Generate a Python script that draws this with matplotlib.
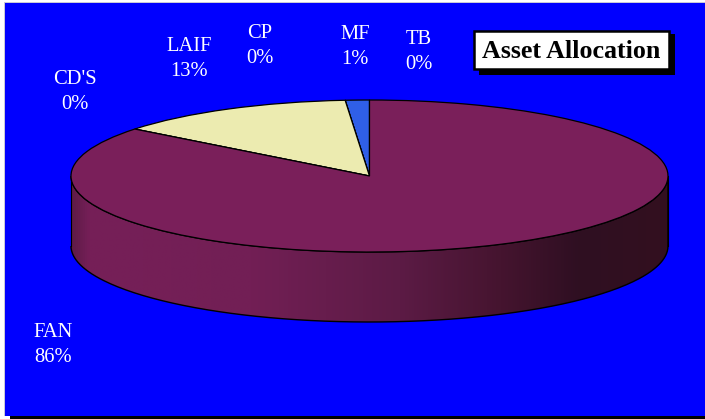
import numpy as np
import matplotlib
matplotlib.use("Agg")
import matplotlib.pyplot as plt
from matplotlib.colors import LinearSegmentedColormap
from matplotlib.patches import PathPatch, Rectangle
from matplotlib.path import Path

# Data (counter-clockwise from 12 o'clock)
categories = ["TB", "MF", "CP", "LAIF", "CD'S", "FAN"]
values = [0.0, 1.3, 0.0, 13.1, 0.0, 85.6]
percent_labels = ["0%", "1%", "0%", "13%", "0%", "86%"]
title_text = "Asset Allocation"

W, H = 705, 419
CX, CY, RX, RY, DEPTH = 369.5, 176, 298.5, 76, 70
label_px = {"TB": (419, 52), "MF": (355, 47), "CP": (260, 46),
            "LAIF": (189, 59), "CD'S": (75, 92), "FAN": (53, 345)}
colors = {"TB": "#ffffff", "MF": "#2f5fe8", "CP": "#aaaaaa",
          "LAIF": "#ecebb0", "CD'S": "#cccccc", "FAN": "#7a1f5a"}

plt.rcParams["font.family"] = ["Liberation Serif"]
fig = plt.figure(figsize=(W / 100, H / 100), dpi=100, facecolor="white")

# Pixel-coordinate layer: frame, labels, title
bg = fig.add_axes([0, 0, 1, 1], zorder=0)
bg.set_xlim(0, W)
bg.set_ylim(H, 0)
bg.axis("off")
bg.add_patch(Rectangle((10, 410), W, 10, fc="black", ec="none"))
bg.add_patch(Rectangle((3.5, 2.5), W, 413.5, fc="#c8c8d8", ec="none"))
bg.add_patch(Rectangle((4.5, 3.5), W, 412.5, fc="#0000ff", ec="none"))

# Pie layer: unit circle stretched to the ellipse
ax = fig.add_axes([0, 0, 1, 1], zorder=1)
ax.patch.set_alpha(0)
xlim = (-CX / RX, (W - CX) / RX)
ylim = ((CY - H) / RY, CY / RY)
d = DEPTH / RY

t = np.linspace(np.pi, 2 * np.pi, 200)
xs = np.r_[np.cos(t), np.cos(t[::-1])]
ys = np.r_[np.sin(t) - d, np.sin(t[::-1])]
wall = Path(np.c_[xs, ys], closed=False)
cmap = LinearSegmentedColormap.from_list(
    "wall",
    [(0.0, "#5e1b47"), (0.03, "#761f58"), (0.30, "#721f55"), (0.55, "#5c1b45"),
     (0.72, "#45142f"), (0.85, "#2f0f22"), (1.0, "#33101f")])
im = ax.imshow(np.linspace(0, 1, 512)[None, :], extent=(-1, 1, -1 - d, 1),
               cmap=cmap, aspect="auto", origin="lower", zorder=1)
outline = PathPatch(wall, fc="none", ec="black", lw=1.0, zorder=2)
ax.add_patch(outline)
im.set_clip_path(outline)
ax.plot([-1, -1], [0, -d], color="black", lw=0.8, zorder=2)
ax.plot([1, 1], [0, -d], color="black", lw=0.8, zorder=2)

wedges, _ = ax.pie(values, startangle=90, counterclock=True,
                   colors=[colors[c] for c in categories],
                   wedgeprops=dict(edgecolor="black", linewidth=0.9, zorder=3))
ax.set_aspect("auto")
ax.set_xlim(*xlim)
ax.set_ylim(*ylim)
ax.set_axis_off()

# Labels
for cat, pct in zip(categories, percent_labels):
    x, y = label_px[cat]
    bg.text(x, y, f"{cat}\n{pct}", color="white", fontsize=14.8, ha="center",
            va="center", linespacing=1.45, zorder=5)

# Title box (drawn above the pie layer)
top = fig.add_axes([0, 0, 1, 1], zorder=2)
top.set_xlim(0, W)
top.set_ylim(H, 0)
top.axis("off")
top.add_patch(Rectangle((479, 34), 196, 41, fc="black", ec="none"))
top.add_patch(Rectangle((474, 31), 195, 38, fc="white", ec="black", lw=1.8))
top.text(571, 51, title_text, fontsize=18.7, fontweight="bold", color="black",
         ha="center", va="center")

fig.savefig("out.png", dpi=100)
